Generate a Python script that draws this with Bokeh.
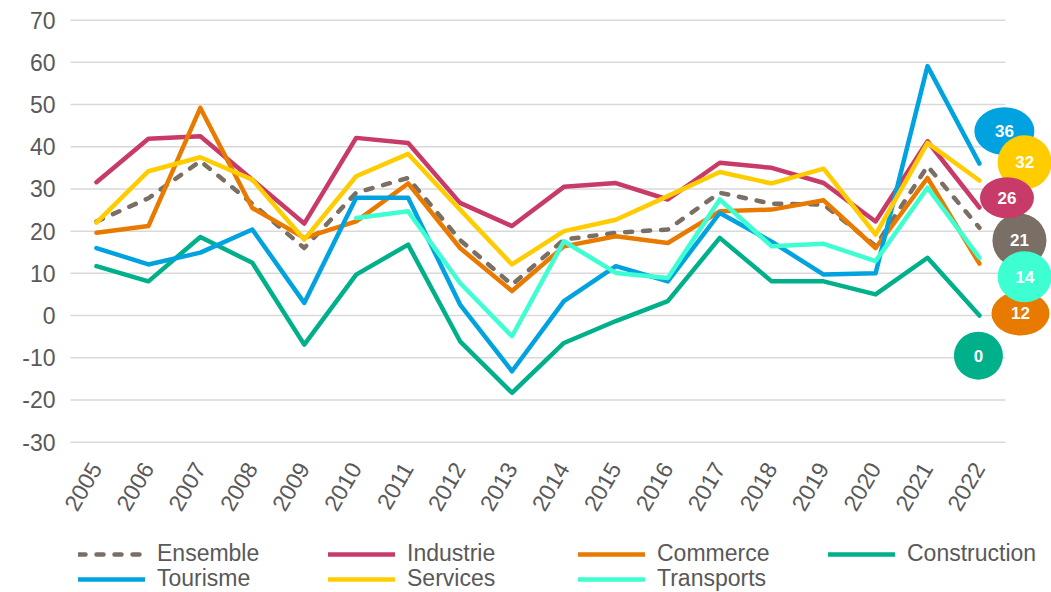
import math
from bokeh.plotting import figure
from bokeh.models import Range1d, FixedTicker, Legend, LegendItem, ColumnDataSource
from bokeh.core.properties import value
from bokeh.embed import file_html
from bokeh.resources import INLINE

# ---------------- data ----------------
years = ["2005", "2006", "2007", "2008", "2009", "2010", "2011", "2012", "2013",
         "2014", "2015", "2016", "2017", "2018", "2019", "2020", "2021", "2022"]
nan = float("nan")
ensemble = [22.3, 27.8, 36.6, 26.5, 16.0, 29.1, 32.6, 17.9, 7.3, 18.0, 19.6, 20.4, 29.1, 26.5, 26.3, 16.5, 35.4, 20.8]
industrie = [31.6, 41.9, 42.5, 32.2, 21.8, 42.1, 40.9, 26.7, 21.2, 30.5, 31.4, 27.5, 36.2, 35.0, 31.4, 22.3, 41.3, 25.6]
commerce = [19.6, 21.2, 49.2, 25.5, 18.4, 22.3, 31.3, 16.0, 5.8, 16.4, 18.8, 17.2, 24.7, 25.1, 27.3, 16.0, 32.6, 12.3]
construction = [11.7, 8.1, 18.6, 12.5, -6.9, 9.7, 16.8, -6.1, -18.3, -6.5, -1.3, 3.4, 18.4, 8.1, 8.1, 5.0, 13.7, 0.0]
tourisme = [16.0, 12.1, 14.9, 20.4, 3.0, 27.9, 27.9, 2.6, -13.2, 3.4, 11.7, 8.1, 24.3, 17.5, 9.7, 10.0, 59.1, 36.0]
services = [22.0, 34.2, 37.5, 32.2, 18.0, 33.0, 38.3, 25.1, 12.1, 20.0, 22.7, 28.3, 34.0, 31.3, 34.8, 19.2, 40.9, 32.0]
transports = [nan, nan, nan, nan, nan, 23.1, 24.7, 7.7, -4.9, 17.6, 10.1, 8.9, 27.5, 16.4, 17.0, 12.9, 30.3, 13.7]

series_names = ["Ensemble", "Industrie", "Commerce", "Construction", "Tourisme", "Services", "Transports"]
series_values = [ensemble, industrie, commerce, construction, tourisme, services, transports]
y_ticks = [-30, -20, -10, 0, 10, 20, 30, 40, 50, 60, 70]

# end-of-line bubble labels (text, in drawing order)
bubble_series = ["Tourisme", "Services", "Ensemble", "Industrie", "Commerce", "Transports", "Construction"]
bubble_text = ["36", "32", "21", "26", "12", "14", "0"]

# ---------------- style ----------------
colors = {
    "Ensemble": "#7A6F65",
    "Industrie": "#C83A68",
    "Commerce": "#E97A00",
    "Construction": "#00B08B",
    "Tourisme": "#00A3DF",
    "Services": "#FFCC00",
    "Transports": "#3DFFD2",
}
# bubble offsets from the last point (x in category units, y in value units) and sizes in px
bubble_dx = {"Tourisme": 0.48, "Services": 0.87, "Ensemble": 0.77, "Industrie": 0.53,
             "Commerce": 0.79, "Transports": 0.87, "Construction": -0.02}
bubble_dy = {"Tourisme": 7.7, "Services": 4.3, "Ensemble": -3.0, "Industrie": 2.3,
             "Commerce": -11.8, "Transports": -4.5, "Construction": -9.5}
bubble_w = {"Tourisme": 60, "Services": 54, "Ensemble": 54, "Industrie": 54,
            "Commerce": 58, "Transports": 54, "Construction": 49}
bubble_h = {"Tourisme": 48, "Services": 54, "Ensemble": 54, "Industrie": 41,
            "Commerce": 44, "Transports": 51, "Construction": 48}

FONT = "Liberation Sans"
TXT = "#595959"
PX_PER_UNIT = 4.22
PX_PER_CAT = 51.94
FRAME_H = 577
FRAME_W = 989
Y_TOP = 71.1
X_LEFT = -0.5 - 8 / PX_PER_CAT

n = len(years)
xs = list(range(n))

p = figure(frame_width=FRAME_W, frame_height=FRAME_H,
           x_range=Range1d(X_LEFT, X_LEFT + FRAME_W / PX_PER_CAT),
           y_range=Range1d(Y_TOP - FRAME_H / PX_PER_UNIT, Y_TOP),
           output_backend="svg", toolbar_location=None,
           x_axis_location=None,
           min_border_left=62, min_border_right=0, min_border_top=15, min_border_bottom=0)
p.outline_line_color = None
p.xgrid.visible = False
p.ygrid.visible = False
p.background_fill_color = "white"
p.border_fill_color = "white"

# horizontal grid lines limited to the category area
p.segment(x0=[-0.5] * len(y_ticks), x1=[n - 0.5] * len(y_ticks), y0=y_ticks, y1=y_ticks,
          line_color="#D9D9D9", line_width=1.5)

renderers = {}
for name, vals in zip(series_names, series_values):
    src = ColumnDataSource(dict(x=xs, y=vals))
    if name == "Ensemble":
        r = p.line("x", "y", source=src, line_color=colors[name], line_width=4.5,
                   line_dash="7 11", line_cap="round", line_join="round")
    else:
        r = p.line("x", "y", source=src, line_color=colors[name], line_width=4.5,
                   line_join="round", line_cap="round")
    renderers[name] = r

# bubbles
bx, by, bw, bh, bc = [], [], [], [], []
for name in bubble_series:
    vals = series_values[series_names.index(name)]
    bx.append(n - 1 + bubble_dx[name])
    by.append(vals[-1] + bubble_dy[name])
    bw.append(bubble_w[name])
    bh.append(bubble_h[name])
    bc.append(colors[name])
bsrc = ColumnDataSource(dict(x=bx, y=by, w=bw, h=bh, c=bc, t=bubble_text))
p.ellipse("x", "y", width="w", height="h", width_units="screen", height_units="screen",
          fill_color="c", line_color=None, source=bsrc)
p.text("x", "y", text="t", source=bsrc, text_align="center", text_baseline="middle",
       text_color="white", text_font=value(FONT), text_font_style="bold",
       text_font_size="17px")

# category labels (rotated) under the lowest grid line
lsrc = ColumnDataSource(dict(x=xs, y=[y_ticks[0]] * n, t=years))
p.text("x", "y", text="t", source=lsrc, angle=math.pi / 3, text_align="right",
       text_baseline="middle", x_offset=-1, y_offset=22,
       text_color=TXT, text_font=value(FONT), text_font_size="23px")

# y axis
p.yaxis.ticker = FixedTicker(ticks=y_ticks)
p.yaxis.major_label_overrides = {t: str(t) for t in y_ticks}
p.yaxis.axis_line_color = None
p.yaxis.major_tick_line_color = None
p.yaxis.minor_tick_line_color = None
p.yaxis.major_tick_in = 0
p.yaxis.major_tick_out = 0
p.yaxis.minor_tick_in = 0
p.yaxis.minor_tick_out = 0
p.yaxis.major_label_text_font = FONT
p.yaxis.major_label_text_font_size = "23px"
p.yaxis.major_label_text_color = TXT
p.yaxis.major_label_standoff = 7

def make_legend(names, loc):
    return Legend(items=[LegendItem(label=nm, renderers=[renderers[nm]]) for nm in names],
                  orientation="horizontal", location=loc,
                  label_text_font=FONT, label_text_font_size="23px", label_text_color=TXT,
                  glyph_width=67, glyph_height=20, label_standoff=12, label_width=134,
                  label_height=24, spacing=37, padding=0, margin=0,
                  border_line_color=None, background_fill_alpha=0)

p.add_layout(make_legend(series_names[:4], (16, 25)))
p.add_layout(make_legend(series_names[4:], (16, 0)))

open("out.html", "w").write(file_html(p, INLINE))
